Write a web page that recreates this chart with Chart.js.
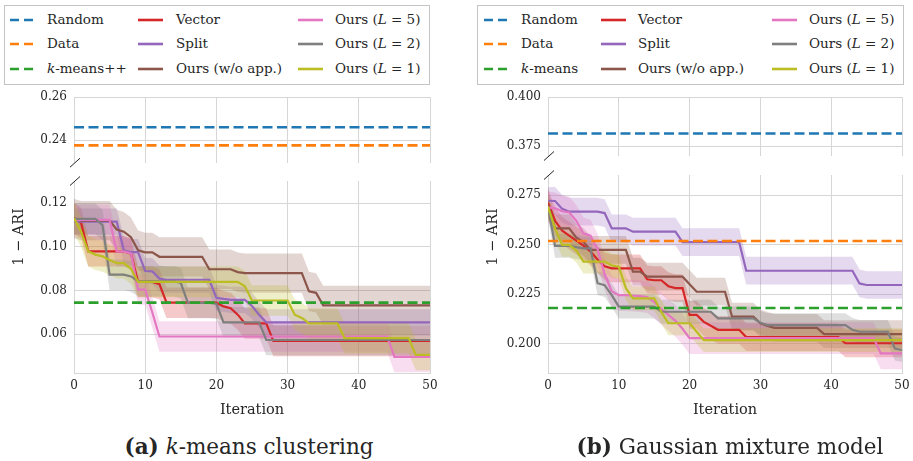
<!DOCTYPE html>
<html>
<head>
<meta charset="utf-8">
<script src="https://cdn.jsdelivr.net/npm/chart.js@4.4.1/dist/chart.umd.min.js"></script>
<style>
  html, body { margin: 0; padding: 0; background: #fff; overflow: hidden; }
  body { width: 913px; height: 461px; position: relative; font-family: 'DejaVu Serif', 'Liberation Serif', serif; color: #262626; }
  canvas { position: absolute; }
  .legend { position: absolute; border: 1px solid #c4c4c4; box-sizing: border-box; }
  .item { position: absolute; font-size: 13.5px; line-height: 20px; white-space: nowrap; }
  .swatch { position: absolute; }
  .ylab { position: absolute; font-size: 14.5px; white-space: nowrap; transform: translate(-50%, -50%) rotate(-90deg); }
  .cap { position: absolute; top: 432px; font-size: 21.5px; line-height: 30px; white-space: nowrap; transform: translateX(-50%); }
</style>
</head>
<body>
<canvas id="kmTop" width="440" height="84" style="left:0;top:86px"></canvas>
<canvas id="kmBottom" width="440" height="253" style="left:0;top:170px"></canvas>
<canvas id="gmTop" width="443" height="84" style="left:470px;top:86px"></canvas>
<canvas id="gmBottom" width="443" height="258" style="left:470px;top:165px"></canvas>

<div class="ylab" style="left:18px;top:237px">1 − ARI</div>
<div class="ylab" style="left:492px;top:237px">1 − ARI</div>
<div class="cap" style="left:249px"><b>(a)</b> <i>k</i>-means clustering</div>
<div class="cap" style="left:730px"><b>(b)</b> Gaussian mixture model</div>

<script>
// ---- data ----
const xTicks = [0, 10, 20, 30, 40, 50];

const baselineNames = ['Random', 'Data'];
const baselineColors = ['#1f77b4', '#ff7f0e', '#2ca02c'];
const seriesNames = ['Vector', 'Split', 'Ours (w/o app.)', 'Ours (<i>L</i> = 5)', 'Ours (<i>L</i> = 2)', 'Ours (<i>L</i> = 1)'];
const seriesColors = ['#d62728', '#9467bd', '#8c564b', '#e377c2', '#7f7f7f', '#bcbd22'];

// (a) k-means clustering
const kmBaselines = [0.246, 0.2375, 0.0745];   // Random, Data, k-means++
const kmVector = [
  0.1132, 0.111, 0.098, 0.098, 0.098, 0.098, 0.098, 0.098, 0.097, 0.084,
  0.084, 0.084, 0.083, 0.0745, 0.0745, 0.0745, 0.0745, 0.0745, 0.0745, 0.0745,
  0.0745, 0.0728, 0.072, 0.069, 0.065, 0.065, 0.065, 0.065, 0.057, 0.057,
  0.057, 0.057, 0.057, 0.057, 0.057, 0.057, 0.057, 0.057, 0.057, 0.057,
  0.057, 0.057, 0.057, 0.057, 0.057, 0.057, 0.057, 0.057, 0.057, 0.057, 0.057];
const kmSplit = [
  0.1116, 0.1116, 0.1116, 0.1116, 0.1116, 0.1116, 0.1116, 0.0985, 0.0976, 0.0976,
  0.089, 0.0888, 0.0855, 0.085, 0.085, 0.085, 0.085, 0.085, 0.085, 0.085,
  0.0767, 0.0762, 0.0758, 0.0758, 0.0758, 0.073, 0.069, 0.0655, 0.0655, 0.0655,
  0.0655, 0.0655, 0.0655, 0.0655, 0.0655, 0.0655, 0.0655, 0.0655, 0.0655, 0.0655,
  0.0655, 0.0655, 0.0655, 0.0655, 0.0655, 0.0655, 0.0655, 0.0655, 0.0655, 0.0655, 0.0655];
const kmNoApp = [
  0.113, 0.1121, 0.1121, 0.1121, 0.1121, 0.1121, 0.108, 0.107, 0.1045, 0.0985,
  0.0975, 0.0975, 0.0955, 0.0955, 0.0955, 0.0955, 0.0955, 0.0955, 0.0955, 0.0898,
  0.0898, 0.0898, 0.0898, 0.0885, 0.088, 0.088, 0.088, 0.088, 0.088, 0.088,
  0.088, 0.088, 0.088, 0.0797, 0.079, 0.0733, 0.0733, 0.0733, 0.0733, 0.0733,
  0.0733, 0.0733, 0.0733, 0.0733, 0.0733, 0.0733, 0.0733, 0.0733, 0.0733, 0.0733, 0.0733];
const kmL5 = [
  0.1124, 0.1124, 0.1124, 0.1124, 0.1124, 0.1124, 0.098, 0.098, 0.097, 0.0805,
  0.0805, 0.070, 0.059, 0.059, 0.059, 0.059, 0.059, 0.059, 0.059, 0.059,
  0.059, 0.059, 0.059, 0.059, 0.059, 0.059, 0.059, 0.059, 0.059, 0.059,
  0.059, 0.059, 0.059, 0.059, 0.059, 0.059, 0.059, 0.059, 0.059, 0.059,
  0.059, 0.059, 0.059, 0.059, 0.059, 0.0497, 0.0497, 0.0497, 0.0497, 0.0497, 0.0497];
const kmL2 = [
  0.1129, 0.1129, 0.1129, 0.1129, 0.110, 0.0873, 0.0873, 0.0873, 0.0865, 0.0843,
  0.0843, 0.0843, 0.0843, 0.0843, 0.0843, 0.0835, 0.0744, 0.0744, 0.0744, 0.0744,
  0.074, 0.0655, 0.0655, 0.0655, 0.0655, 0.0655, 0.0655, 0.0574, 0.0574, 0.0574,
  0.0574, 0.0574, 0.0574, 0.0574, 0.0574, 0.0574, 0.0574, 0.0574, 0.0574, 0.0574,
  0.0574, 0.0574, 0.0574, 0.0574, 0.0574, 0.0574, 0.0574, 0.0574, 0.0574, 0.0574, 0.0574];
const kmL1 = [
  0.1132, 0.107, 0.098, 0.0965, 0.0957, 0.094, 0.0926, 0.0926, 0.090, 0.084,
  0.084, 0.084, 0.084, 0.084, 0.084, 0.084, 0.084, 0.084, 0.084, 0.084,
  0.084, 0.084, 0.084, 0.084, 0.082, 0.0755, 0.0755, 0.0755, 0.0755, 0.0755,
  0.0755, 0.069, 0.0675, 0.065, 0.065, 0.065, 0.065, 0.065, 0.0583, 0.0583,
  0.0583, 0.0583, 0.0583, 0.0583, 0.0583, 0.0583, 0.0583, 0.0583, 0.0506, 0.0506, 0.0506];
const kmStd = [0.007, 0.006, 0.009, 0.007, 0.007, 0.007];

// (b) Gaussian mixture model
const gmBaselines = [0.3815, 0.2518, 0.218];   // Random, Data, k-means
const gmVector = [
  0.2711, 0.262, 0.257, 0.2545, 0.252, 0.2495, 0.2465, 0.2425, 0.239, 0.238,
  0.238, 0.238, 0.238, 0.238, 0.2325, 0.232, 0.232, 0.229, 0.228, 0.228,
  0.2145, 0.2145, 0.211, 0.209, 0.207, 0.207, 0.207, 0.207, 0.2033, 0.2033,
  0.2033, 0.2033, 0.2033, 0.2033, 0.2033, 0.2033, 0.2033, 0.2033, 0.2033, 0.2033,
  0.2033, 0.2033, 0.2002, 0.2002, 0.2002, 0.2002, 0.2002, 0.2002, 0.2002, 0.2002, 0.2002];
const gmSplit = [
  0.2721, 0.272, 0.268, 0.2666, 0.2666, 0.2666, 0.2666, 0.2666, 0.2659, 0.2582,
  0.2582, 0.2582, 0.2565, 0.2565, 0.2565, 0.2565, 0.2565, 0.2565, 0.2565, 0.2512,
  0.2512, 0.2512, 0.2512, 0.2512, 0.2512, 0.2512, 0.2512, 0.2512, 0.2368, 0.2368,
  0.2368, 0.2368, 0.2368, 0.2368, 0.2368, 0.2368, 0.2368, 0.2368, 0.2368, 0.2368,
  0.2368, 0.2368, 0.2368, 0.2368, 0.2304, 0.2296, 0.2296, 0.2296, 0.2296, 0.2296, 0.2296];
const gmNoApp = [
  0.270, 0.2582, 0.2582, 0.2582, 0.2535, 0.2514, 0.2473, 0.2473, 0.2473, 0.2473,
  0.2473, 0.2473, 0.2363, 0.2363, 0.2338, 0.2338, 0.2338, 0.2338, 0.2338, 0.2338,
  0.230, 0.2262, 0.2262, 0.2262, 0.2262, 0.2262, 0.2136, 0.2136, 0.2136, 0.2136,
  0.2103, 0.209, 0.208, 0.208, 0.208, 0.208, 0.208, 0.208, 0.208, 0.2048,
  0.2048, 0.2048, 0.2048, 0.2048, 0.2048, 0.2048, 0.2048, 0.2048, 0.2048, 0.2048, 0.2048];
const gmL5 = [
  0.2688, 0.2683, 0.2668, 0.2662, 0.262, 0.2557, 0.2545, 0.2475, 0.235, 0.2265,
  0.2245, 0.2245, 0.2242, 0.224, 0.2235, 0.221, 0.2175, 0.2145, 0.2115, 0.2075,
  0.2028, 0.2028, 0.2028, 0.2028, 0.2028, 0.2028, 0.2028, 0.2028, 0.2028, 0.2028,
  0.2028, 0.2028, 0.2028, 0.2028, 0.2028, 0.2028, 0.2028, 0.2028, 0.2028, 0.2028,
  0.2028, 0.2028, 0.2028, 0.2028, 0.2028, 0.2028, 0.2028, 0.1951, 0.1951, 0.1951, 0.1951];
const gmL2 = [
  0.269, 0.2493, 0.2493, 0.2493, 0.2487, 0.2481, 0.2481, 0.2305, 0.2295, 0.2245,
  0.2187, 0.2187, 0.2187, 0.2187, 0.2187, 0.2187, 0.2161, 0.2161, 0.2161, 0.2161,
  0.2161, 0.2161, 0.2161, 0.2161, 0.2128, 0.2128, 0.2128, 0.2128, 0.2128, 0.2128,
  0.2105, 0.2094, 0.2094, 0.2094, 0.2094, 0.2094, 0.2094, 0.2094, 0.2094, 0.2094,
  0.2094, 0.2094, 0.2094, 0.207, 0.206, 0.206, 0.206, 0.206, 0.206, 0.1975, 0.1968];
const gmL1 = [
  0.2691, 0.258, 0.2498, 0.2498, 0.247, 0.2414, 0.2414, 0.2414, 0.2414, 0.2395,
  0.2388, 0.228, 0.2229, 0.2229, 0.2229, 0.2229, 0.216, 0.2103, 0.2103, 0.2103,
  0.2103, 0.206, 0.2018, 0.2018, 0.2018, 0.2018, 0.2018, 0.2018, 0.2018, 0.2018,
  0.2018, 0.2018, 0.2018, 0.2018, 0.2018, 0.2018, 0.2018, 0.2018, 0.2018, 0.2018,
  0.2018, 0.2018, 0.2018, 0.2018, 0.2018, 0.2018, 0.2018, 0.2018, 0.2018, 0.2018, 0.2018];
const gmStd = [0.007, 0.007, 0.007, 0.008, 0.006, 0.006];

// axis ticks and limits
const kmTopTicks = [0.24, 0.26];
const kmBottomTicks = [0.06, 0.08, 0.10, 0.12];
const gmTopTicks = [0.375, 0.400];
const gmBottomTicks = [0.200, 0.225, 0.250, 0.275];

// ---- drawing ----
const gridColor = '#d6d6d6';
const textColor = '#262626';
const tickSize = 12;
Chart.defaults.font.family = "'DejaVu Serif', 'Liberation Serif', serif";
Chart.defaults.color = textColor;

function fade(hex, a) {
  const n = parseInt(hex.slice(1), 16);
  return `rgba(${n >> 16},${(n >> 8) & 255},${n & 255},${a})`;
}

function buildDatasets(baselines, series, std) {
  const ds = [];
  series.forEach((vals, k) => {
    ds.push({ data: vals.map((v, i) => ({ x: i, y: v + std[k] })), borderColor: 'rgba(0,0,0,0)', borderWidth: 0,
              pointRadius: 0, tension: 0, fill: '+1', backgroundColor: fade(seriesColors[k], 0.25) });
    ds.push({ data: vals.map((v, i) => ({ x: i, y: v - std[k] })), borderColor: 'rgba(0,0,0,0)', borderWidth: 0,
              pointRadius: 0, tension: 0, fill: false });
  });
  series.forEach((vals, k) => {
    ds.push({ data: vals.map((v, i) => ({ x: i, y: v })), borderColor: seriesColors[k], borderWidth: 2.2,
              pointRadius: 0, tension: 0, fill: false });
  });
  baselines.forEach((v, j) => {
    ds.push({ data: [{ x: xTicks[0], y: v }, { x: xTicks[xTicks.length - 1], y: v }], borderColor: baselineColors[j],
              borderWidth: 2.6, borderDash: [10, 4.5], pointRadius: 0, fill: false });
  });
  // first in list is painted first
  ds.forEach((d, i) => { d.order = ds.length - i; });
  return ds;
}

const breakMarks = {
  id: 'breakMarks',
  afterDraw(chart, args, opts) {
    const { ctx, chartArea } = chart;
    const y = opts.edge === 'bottom' ? chartArea.bottom : chartArea.top;
    const x = chartArea.left + 1;
    ctx.save();
    ctx.strokeStyle = '#222';
    ctx.lineWidth = 1;
    ctx.beginPath();
    ctx.moveTo(x - 5, y + 4.5);
    ctx.lineTo(x + 5, y - 4.5);
    ctx.stroke();
    ctx.restore();
  }
};

function makeChart(id, o) {
  return new Chart(document.getElementById(id), {
    type: 'line',
    data: { datasets: o.datasets },
    options: {
      responsive: false,
      animation: false,
      events: [],
      layout: { padding: o.padding },
      plugins: {
        legend: { display: false },
        tooltip: { enabled: false },
        breakMarks: { edge: o.edge }
      },
      scales: {
        x: {
          type: 'linear', min: 0, max: 50,
          afterBuildTicks: s => { s.ticks = xTicks.map(v => ({ value: v })); },
          afterFit: s => { s.height = o.xHeight; s.paddingLeft = 0; s.paddingRight = 0; },
          grid: { color: gridColor, lineWidth: 1, drawTicks: false },
          border: { display: o.showX, color: gridColor },
          ticks: { display: o.showX, padding: 6, maxRotation: 0, font: { size: tickSize }, color: textColor },
          title: { display: o.showX, text: 'Iteration', color: textColor, font: { size: 14.5 }, padding: { top: 0, bottom: 4 } }
        },
        y: {
          min: o.min, max: o.max,
          afterBuildTicks: s => { s.ticks = o.ticks.map(v => ({ value: v })); },
          afterFit: s => { s.width = o.yWidth; s.paddingTop = 0; s.paddingBottom = 0; },
          grid: { color: gridColor, lineWidth: 1, drawTicks: false },
          border: { display: true, color: gridColor },
          ticks: { padding: 7, font: { size: tickSize }, color: textColor, callback: v => v.toFixed(o.digits) }
        }
      }
    },
    plugins: [breakMarks]
  });
}

const kmSeries = [kmVector, kmSplit, kmNoApp, kmL5, kmL2, kmL1];
const gmSeries = [gmVector, gmSplit, gmNoApp, gmL5, gmL2, gmL1];

makeChart('kmTop', { datasets: buildDatasets(kmBaselines, kmSeries, kmStd), padding: { left: 0, right: 10, top: 11.3, bottom: 7.3 },
  xHeight: 0, showX: false, yWidth: 74, min: 0.2294, max: 0.26, ticks: kmTopTicks, digits: 2, edge: 'bottom' });
makeChart('kmBottom', { datasets: buildDatasets(kmBaselines, kmSeries, kmStd), padding: { left: 0, right: 10, top: 11, bottom: 0 },
  xHeight: 50, showX: true, yWidth: 74, min: 0.0423, max: 0.1302, ticks: kmBottomTicks, digits: 2, edge: 'top' });
makeChart('gmTop', { datasets: buildDatasets(gmBaselines, gmSeries, gmStd), padding: { left: 0, right: 11, top: 11.3, bottom: 14 },
  xHeight: 0, showX: false, yWidth: 78, min: 0.370, max: 0.400, ticks: gmTopTicks, digits: 3, edge: 'bottom' });
makeChart('gmBottom', { datasets: buildDatasets(gmBaselines, gmSeries, gmStd), padding: { left: 0, right: 11, top: 10, bottom: 0 },
  xHeight: 50, showX: true, yWidth: 78, min: 0.1852, max: 0.2851, ticks: gmBottomTicks, digits: 3, edge: 'top' });

// ---- legends (HTML) ----
const legendRowY = [20, 44, 69];
function addLegend(box, lineX, textX, thirdName) {
  const frame = document.createElement('div');
  frame.className = 'legend';
  Object.assign(frame.style, { left: box[0] + 'px', top: box[1] + 'px', width: box[2] + 'px', height: box[3] + 'px' });
  document.body.appendChild(frame);
  const names = baselineNames.concat([thirdName], seriesNames);
  const colors = baselineColors.concat(seriesColors);
  names.forEach((name, i) => {
    const col = Math.floor(i / 3), row = i % 3;
    const y = legendRowY[row];
    const dashed = i < 3;
    const svg = document.createElementNS('http://www.w3.org/2000/svg', 'svg');
    svg.setAttribute('class', 'swatch');
    svg.setAttribute('width', 26);
    svg.setAttribute('height', 6);
    svg.style.left = lineX[col] + 'px';
    svg.style.top = (y - 3) + 'px';
    const ln = document.createElementNS('http://www.w3.org/2000/svg', 'line');
    ln.setAttribute('x1', 0); ln.setAttribute('x2', dashed ? 23 : 25);
    ln.setAttribute('y1', 3); ln.setAttribute('y2', 3);
    ln.setAttribute('stroke', colors[i]);
    ln.setAttribute('stroke-width', 2.6);
    if (dashed) ln.setAttribute('stroke-dasharray', '9 5');
    svg.appendChild(ln);
    document.body.appendChild(svg);
    const t = document.createElement('div');
    t.className = 'item';
    t.style.left = textX[col] + 'px';
    t.style.top = (y - 11) + 'px';
    t.innerHTML = name;
    document.body.appendChild(t);
  });
}
addLegend([4, 5, 426, 80], [10, 138, 298], [47, 176, 335], '<i>k</i>-means++');
addLegend([477, 5, 427, 80], [484, 601, 772], [521, 638, 809], '<i>k</i>-means');
</script>
</body>
</html>
